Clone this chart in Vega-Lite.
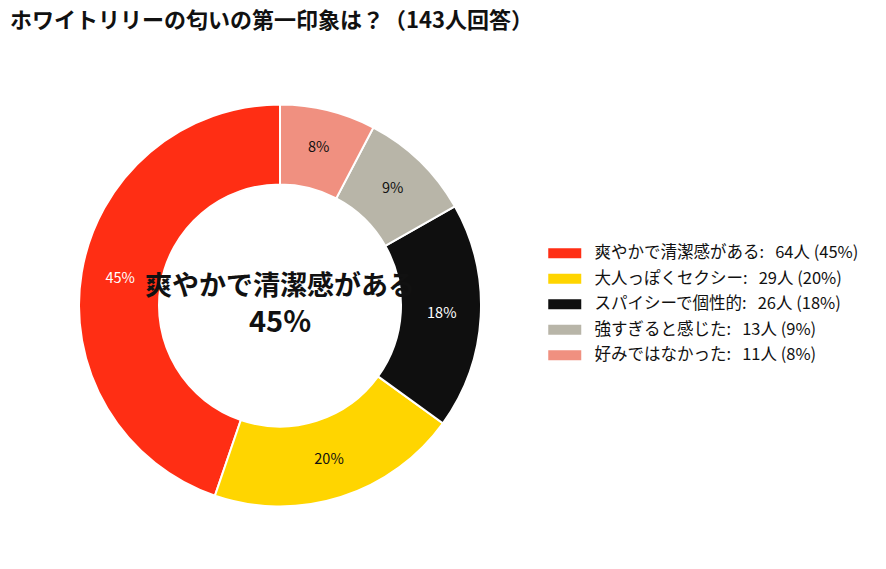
{
  "$schema": "https://vega.github.io/schema/vega-lite/v6.json",
  "title": {
    "text": "ホワイトリリーの匂いの第一印象は？（143人回答）",
    "anchor": "start",
    "frame": "group",
    "font": "Noto Sans CJK JP",
    "fontSize": 22,
    "fontWeight": "bold",
    "color": "#111111",
    "offset": 3
  },
  "width": 540,
  "height": 539,
  "padding": {"left": 10, "top": 10, "right": 0, "bottom": 0},
  "data": {
    "values": [
      {"rank": 1, "name": "爽やかで清潔感がある", "count": 64, "pct": "45%", "label": "爽やかで清潔感がある:\u00a0\u00a0\u00a064人 (45%)"},
      {"rank": 2, "name": "大人っぽくセクシー", "count": 29, "pct": "20%", "label": "大人っぽくセクシー:\u00a0\u00a0\u00a029人 (20%)"},
      {"rank": 3, "name": "スパイシーで個性的", "count": 26, "pct": "18%", "label": "スパイシーで個性的:\u00a0\u00a0\u00a026人 (18%)"},
      {"rank": 4, "name": "強すぎると感じた", "count": 13, "pct": "9%", "label": "強すぎると感じた:\u00a0\u00a0\u00a013人 (9%)"},
      {"rank": 5, "name": "好みではなかった", "count": 11, "pct": "8%", "label": "好みではなかった:\u00a0\u00a0\u00a011人 (8%)"}
    ]
  },
  "layer": [
    {
      "mark": {"type": "arc", "innerRadius": 121, "radius": 201, "stroke": "white", "strokeWidth": 2},
      "encoding": {
        "theta": {"field": "count", "type": "quantitative", "stack": true},
        "order": {"field": "rank", "sort": "descending"},
        "color": {
          "field": "label",
          "type": "nominal",
          "scale": {
            "domain": [
              "爽やかで清潔感がある:\u00a0\u00a0\u00a064人 (45%)",
              "大人っぽくセクシー:\u00a0\u00a0\u00a029人 (20%)",
              "スパイシーで個性的:\u00a0\u00a0\u00a026人 (18%)",
              "強すぎると感じた:\u00a0\u00a0\u00a013人 (9%)",
              "好みではなかった:\u00a0\u00a0\u00a011人 (8%)"
            ],
            "range": ["#FF2E14", "#FFD500", "#0F0F0F", "#B8B5A8", "#F09080"]
          },
          "legend": {
            "title": null,
            "orient": "none",
            "legendX": 535,
            "legendY": 209,
            "padding": 0,
            "symbolType": "M-1,-1H5.6V1H-1Z",
            "symbolSize": 100,
            "symbolStrokeWidth": 0,
            "symbolOpacity": 1,
            "labelOffset": 33,
            "labelFont": "Noto Sans CJK JP",
            "labelFontSize": 16.5,
            "labelColor": "#111111",
            "labelLimit": 400,
            "rowPadding": 8.5
          }
        }
      }
    },
    {
      "mark": {"type": "text", "radius": 162, "font": "Noto Sans CJK JP", "fontSize": 14.5},
      "encoding": {
        "theta": {"field": "count", "type": "quantitative", "stack": true},
        "order": {"field": "rank", "sort": "descending"},
        "text": {"field": "pct"},
        "color": {
          "condition": {"test": "datum.rank == 1 || datum.rank == 3", "value": "white"},
          "value": "#111111"
        }
      }
    },
    {
      "transform": [{"filter": "datum.rank == 1"}],
      "mark": {"type": "text", "font": "Noto Sans CJK JP", "fontSize": 27, "fontWeight": "bold", "color": "#111111", "dy": -19},
      "encoding": {"text": {"field": "name"}}
    },
    {
      "transform": [{"filter": "datum.rank == 1"}],
      "mark": {"type": "text", "font": "Noto Sans CJK JP", "fontSize": 29, "fontWeight": "bold", "color": "#111111", "dy": 17},
      "encoding": {"text": {"field": "pct"}}
    }
  ],
  "config": {"view": {"stroke": null}}
}
